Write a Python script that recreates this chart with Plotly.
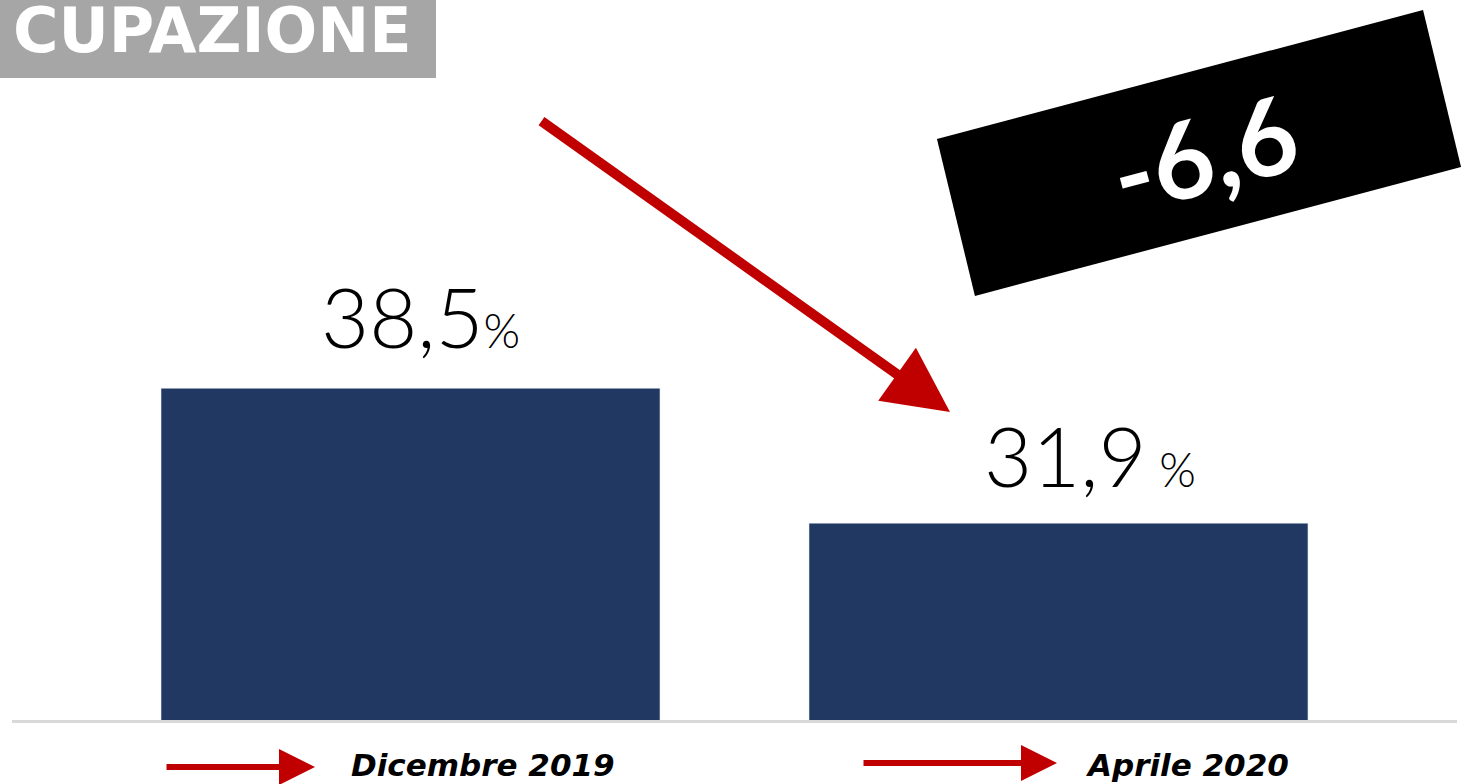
import plotly.graph_objects as go

BLU = "#213862"
ROSSO = "#c00000"
GRIGIO = "#a6a6a6"
FONT = "Lato"
FONT_LARGO = "DejaVu Sans"

titolo = "CUPAZIONE"
categorie = ["Dicembre 2019", "Aprile 2020"]
valori = [38.5, 31.9]
simboli = ["%", " %"]

W, H = 1477, 784
ML, MR, MT, MB = 12, 20, 0, 64
PW, PH = W - ML - MR, H - MT - MB


def px(x, y):
    """pixel della figura -> coordinate paper dell'area del grafico"""
    return (x - ML) / PW, (H - MB - y) / PH


def fmt(v):
    return f"{v:.1f}".replace(".", ",")


fig = go.Figure(go.Bar(x=categorie, y=valori, marker_color=BLU, width=0.77,
                       hoverinfo="skip"))

# etichette dei valori sopra le barre
for cat, v, s, dx, dy in zip(categorie, valori, simboli, [10, 32], [20, 16]):
    fig.add_annotation(x=cat, y=v, xref="x", yref="y", yanchor="bottom",
                       xshift=dx, yshift=dy, showarrow=False,
                       text=f"{fmt(v)}<span style='font-size:47px'>{s}</span>",
                       font=dict(family=FONT, size=83, color="black", weight=300))

# etichette categorie con frecce rosse
for cat, (x0, x1, y), lx in zip(categorie, [(165, 315, 767), (862, 1057, 763)], [483, 1187]):
    hx, hy = px(x1, y)
    fig.add_annotation(x=hx, y=hy, xref="paper", yref="paper", ax=x0 - x1, ay=0,
                       text="", showarrow=True, arrowhead=2, arrowsize=1.2,
                       arrowwidth=6, arrowcolor=ROSSO)
    tx, ty = px(lx, 765)
    fig.add_annotation(x=tx, y=ty, xref="paper", yref="paper", showarrow=False,
                       xanchor="center", yanchor="middle",
                       text=f"<b><i>{cat}</i></b>",
                       font=dict(family=FONT_LARGO, size=31, color="black"))

# freccia diagonale
hx, hy = px(950, 412)
fig.add_annotation(x=hx, y=hy, xref="paper", yref="paper", ax=540 - 950, ay=120 - 412,
                   text="", showarrow=True, arrowhead=2, arrowsize=1.3,
                   arrowwidth=10, arrowcolor=ROSSO)

# riquadro nero ruotato con la differenza
angoli = [(937, 139), (1423, 10), (1461, 167), (975, 296)]
pts = [px(x, y) for x, y in angoli]
path = "M " + " L ".join(f"{a:.4f},{b:.4f}" for a, b in pts) + " Z"
fig.add_shape(type="path", path=path, xref="paper", yref="paper",
              fillcolor="black", line=dict(width=0), layer="above")
cx, cy = px(1203, 152)
fig.add_annotation(x=cx, y=cy, xref="paper", yref="paper", showarrow=False,
                   xanchor="center", yanchor="middle",
                   text=f"<b>{fmt(valori[1] - valori[0])}</b>", textangle=-15,
                   font=dict(family=FONT, size=106, color="white"))

# titolo su fondo grigio
x0, y0 = px(0, 78)
x1, y1 = px(436, 0)
fig.add_shape(type="rect", x0=x0, y0=y0, x1=x1, y1=y1, xref="paper", yref="paper",
              fillcolor=GRIGIO, line=dict(width=0))
tx, ty = px(414, 31)
fig.add_annotation(x=tx, y=ty, xref="paper", yref="paper", xanchor="right",
                   yanchor="middle", showarrow=False, text=f"<b>{titolo}</b>",
                   font=dict(family=FONT_LARGO, size=62, color="white"))

fig.update_layout(
    width=W, height=H,
    margin=dict(l=ML, r=MR, t=MT, b=MB),
    paper_bgcolor="white", plot_bgcolor="white",
    showlegend=False,
    xaxis=dict(range=[-0.615, 1.615], showticklabels=False, showgrid=False,
               showline=True, linecolor="#d9d9d9", linewidth=3, ticks=""),
    yaxis=dict(range=[22.27, 57.5], visible=False, showgrid=False),
)

fig.write_html("out.html", config={"displayModeBar": False},
               post_script="document.body.style.margin='0';")
